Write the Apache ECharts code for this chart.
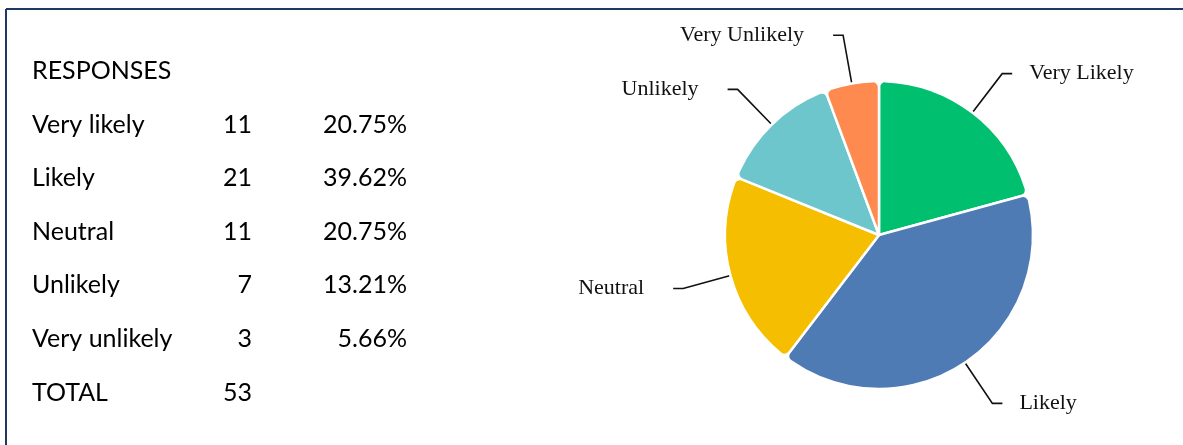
<!DOCTYPE html>
<html>
<head>
<meta charset="utf-8">
<script src="https://cdn.jsdelivr.net/npm/echarts@6/dist/echarts.min.js"></script>
<style>
html,body{margin:0;padding:0;background:#fff;}
#chart{width:1183px;height:445px;}
</style>
</head>
<body>
<div id="chart"></div>
<script>
// ---- data ----
const tableHeader = 'RESPONSES';
const tableLabels = ['Very likely', 'Likely', 'Neutral', 'Unlikely', 'Very unlikely'];
const pieLabels = ['Very Likely', 'Likely', 'Neutral', 'Unlikely', 'Very Unlikely'];
const counts = [11, 21, 11, 7, 3];
const totalLabel = 'TOTAL';
const sliceColors = ['#00BF6F', '#4F7BB5', '#F6BE00', '#6CC6CB', '#FE8A4F'];

const total = counts.reduce((a, b) => a + b, 0);
const percents = counts.map(c => (c / total * 100).toFixed(2) + '%');

// ---- table as graphic text ----
const rowY0 = 71, rowStep = 53.6;
const tableFont = '25px Lato';
const g = [];
// frame (top and left edges)
g.push({type: 'line', shape: {x1: 6, y1: 9, x2: 1200, y2: 9},
  style: {stroke: '#1F3864', lineWidth: 2}, silent: true});
g.push({type: 'line', shape: {x1: 6, y1: 9, x2: 6, y2: 460},
  style: {stroke: '#1F3864', lineWidth: 2}, silent: true});
function txt(s, x, y, align) {
  g.push({type: 'text', x: x, y: y, style: {text: s, font: tableFont, fill: '#000',
    align: align, verticalAlign: 'middle'}});
}
txt(tableHeader, 32, rowY0, 'left');
tableLabels.forEach((lab, i) => {
  const y = rowY0 + rowStep * (i + 1);
  txt(lab, 32, y, 'left');
  txt(String(counts[i]), 252, y, 'right');
  txt(percents[i], 407, y, 'right');
});
txt(totalLabel, 32, rowY0 + rowStep * 6, 'left');
txt(String(total), 252, rowY0 + rowStep * 6, 'right');

const chart = echarts.init(document.getElementById('chart'));
chart.setOption({
  backgroundColor: '#fff',
  animation: false,
  graphic: g,
  series: [{
    type: 'pie',
    center: [879, 235],
    radius: 154,
    startAngle: 90,
    clockwise: true,
    avoidLabelOverlap: true,
    itemStyle: {borderColor: '#fff', borderWidth: 2.5, borderRadius: 6},
    label: {
      show: true,
      formatter: '{b}',
      fontFamily: '"Liberation Serif", "Times New Roman", serif',
      fontSize: 22,
      color: '#111',
      backgroundColor: 'rgba(255,255,255,0)',
      padding: [8, 16, 0, 4],
      distanceToLabelLine: 13
    },
    labelLine: {show: true, length: 49, length2: 10, lineStyle: {color: '#111', width: 1.6}},
    emphasis: {disabled: true},
    data: pieLabels.map((n, i) => ({name: n, value: counts[i], itemStyle: {color: sliceColors[i]}}))
  }]
});
</script>
</body>
</html>
